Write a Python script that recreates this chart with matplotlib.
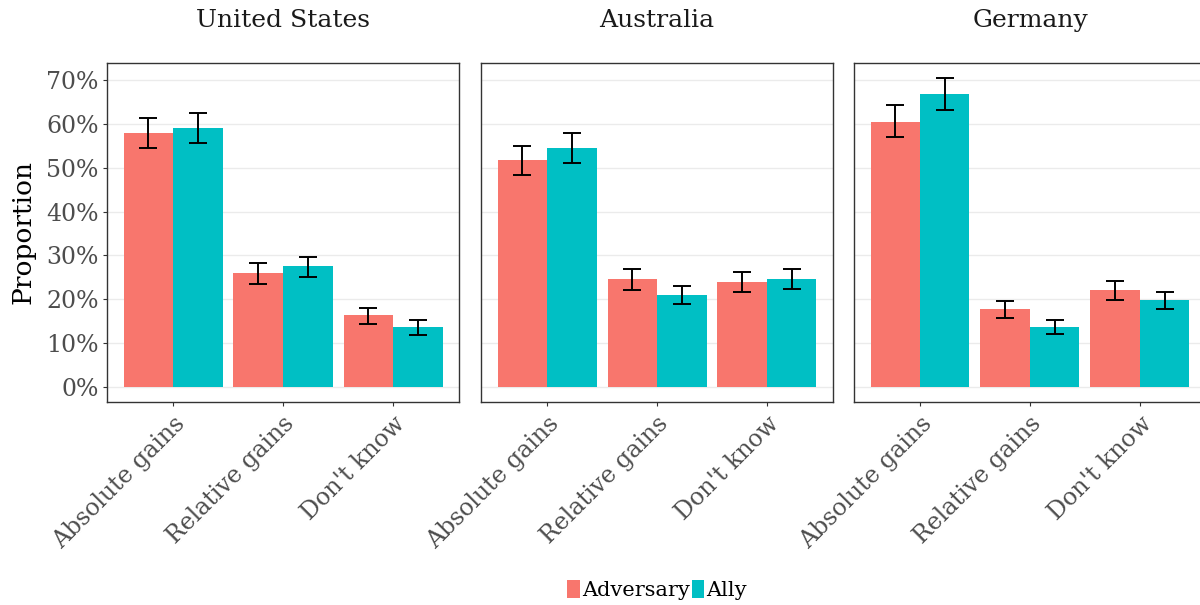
import matplotlib
matplotlib.use("Agg")
import matplotlib.pyplot as plt
from matplotlib.patches import Patch
import numpy as np

plt.rcParams['font.family'] = ['DejaVu Serif']

countries = ["United States", "Australia", "Germany"]
categories = ["Absolute gains", "Relative gains", "Don't know"]
groups = ["Adversary", "Ally"]
colors = {"Adversary": "#F8766D", "Ally": "#00BFC4"}

# proportions (%) per country, order follows `categories`
adversary = {
    "United States": [58.0, 25.9, 16.3],
    "Australia": [51.9, 24.6, 24.0],
    "Germany": [60.6, 17.7, 22.1],
}
ally = {
    "United States": [59.1, 27.5, 13.6],
    "Australia": [54.6, 21.0, 24.6],
    "Germany": [66.9, 13.7, 19.8],
}
# 95% interval bounds (%)
adversary_lo = {
    "United States": [54.5, 23.5, 14.4],
    "Australia": [48.4, 22.2, 21.7],
    "Germany": [57.0, 15.6, 19.8],
}
adversary_hi = {
    "United States": [61.5, 28.2, 18.1],
    "Australia": [55.0, 26.8, 26.2],
    "Germany": [64.3, 19.6, 24.2],
}
ally_lo = {
    "United States": [55.7, 25.1, 11.8],
    "Australia": [51.2, 18.8, 22.3],
    "Germany": [63.2, 12.0, 17.8],
}
ally_hi = {
    "United States": [62.6, 29.7, 15.2],
    "Australia": [58.0, 23.1, 26.8],
    "Germany": [70.5, 15.3, 21.7],
}
yticks = [0, 10, 20, 30, 40, 50, 60, 70]

W, H = 1200, 605
fig = plt.figure(figsize=(W / 100, H / 100), dpi=100)

panel_left = [107, 481, 854]
panel_w = 352
panel_top, panel_bottom = 63, 402

x = np.arange(1, len(categories) + 1)
bw = 0.45
series = [
    ("Adversary", adversary, adversary_lo, adversary_hi, -bw / 2),
    ("Ally", ally, ally_lo, ally_hi, bw / 2),
]

for i, country in enumerate(countries):
    ax = fig.add_axes([panel_left[i] / W, 1 - panel_bottom / H,
                       panel_w / W, (panel_bottom - panel_top) / H])
    for name, vals, lo, hi, off in series:
        v = np.array(vals[country])
        ax.bar(x + off, v, width=bw, color=colors[name], zorder=2,
               edgecolor="none")
        l = np.array(lo[country])
        h = np.array(hi[country])
        ax.errorbar(x + off, v, yerr=[v - l, h - v], fmt="none",
                    ecolor="black", elinewidth=1.4, capsize=6.3,
                    capthick=1.4, zorder=3)
    ax.set_xlim(0.4, 3.6)
    ax.set_ylim(-3.5, 74.0)
    ax.set_yticks(yticks)
    ax.yaxis.grid(True, color="#EBEBEB", linewidth=1.0, zorder=0)
    ax.set_axisbelow(True)
    ax.set_xticks(x)
    ax.set_xticklabels(categories, rotation=45, ha="right", va="top",
                       rotation_mode="anchor", fontsize=17, color="#4D4D4D")
    ax.tick_params(axis="x", length=3, color="#333333", pad=4)
    ax.tick_params(axis="y", length=3, color="#333333", pad=3)
    if i == 0:
        ax.set_yticklabels([f"{t}%" for t in yticks], fontsize=17,
                           color="#4D4D4D")
        ax.set_ylabel("Proportion", fontsize=19, color="black", labelpad=8)
    else:
        ax.tick_params(axis="y", left=False, labelleft=False)
    for s in ax.spines.values():
        s.set_color("#333333")
        s.set_linewidth(1.0)
    ax.set_title(country, fontsize=18, color="#1A1A1A", pad=26)

handles = [Patch(facecolor=colors[g], edgecolor="none", label=g) for g in groups]
fig.legend(handles=handles, loc="center", bbox_to_anchor=(657 / W, 1 - 590 / H),
           ncol=2, frameon=False, fontsize=15, handlelength=0.6,
           handleheight=1.0, handletextpad=0.1, columnspacing=0.1)

fig.savefig("out.png", dpi=100)
